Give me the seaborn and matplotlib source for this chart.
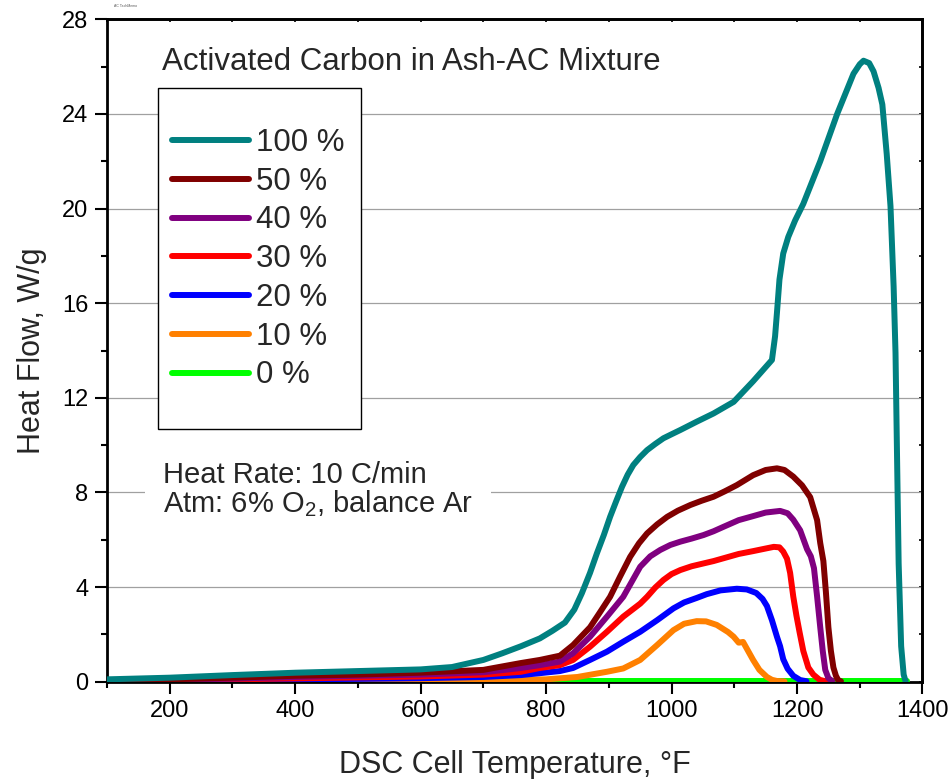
import numpy as np
import pandas as pd
import matplotlib
matplotlib.use("Agg")
import matplotlib.pyplot as plt
import seaborn as sns
from matplotlib.ticker import MultipleLocator
from matplotlib.patches import Rectangle

x_100 = [100, 200, 300, 400, 500, 600, 650, 700, 730, 760, 790, 810, 830, 845, 857, 870, 881, 892, 902, 912,
         921, 930, 939, 950, 961, 974, 987, 1000, 1014, 1040, 1067, 1099, 1130, 1160, 1165, 1168, 1172, 1178,
         1186, 1197, 1210, 1237, 1264, 1290, 1300, 1306, 1315, 1322, 1330, 1336, 1343, 1349, 1354, 1357, 1359,
         1362, 1366, 1370, 1373]
y_100 = [0.1, 0.17, 0.28, 0.38, 0.45, 0.52, 0.62, 0.92, 1.2, 1.5, 1.83, 2.15, 2.5, 3.05, 3.74, 4.6, 5.43, 6.2, 6.97, 7.65,
         8.24, 8.75, 9.16, 9.5, 9.79, 10.05, 10.29, 10.46, 10.64, 10.99, 11.34, 11.83, 12.7, 13.6, 14.6, 15.6, 17.0, 18.1,
         18.8, 19.5, 20.2, 22.0, 24.0, 25.7, 26.1, 26.25, 26.15, 25.8, 25.1, 24.4, 22.3, 20.1, 16.7, 13.9, 10.3,
         5.0, 1.5, 0.3, 0.02]

x_50 = [100, 200, 300, 400, 500, 600, 700, 760, 790, 822, 843, 870, 885, 902, 918, 934, 948, 961, 977, 993,
        1010, 1030, 1048, 1067, 1085, 1104, 1130, 1150, 1168, 1180, 1194, 1208, 1221, 1232, 1237, 1242, 1246,
        1250, 1254, 1258, 1262, 1266, 1270]
y_50 = [0.05, 0.1, 0.17, 0.25, 0.3, 0.38, 0.5, 0.79, 0.92, 1.1, 1.55, 2.3, 2.9, 3.59, 4.45, 5.28, 5.85, 6.27, 6.65, 6.97,
        7.23, 7.47, 7.65, 7.82, 8.05, 8.31, 8.73, 8.95, 9.02, 8.95, 8.67, 8.3, 7.8, 6.83, 5.86, 5.1, 3.8,
        2.3, 1.3, 0.6, 0.25, 0.05, 0.02]

x_40 = [100, 200, 300, 400, 500, 600, 700, 760, 790, 822, 843, 870, 897, 923, 950, 966, 982, 998, 1014, 1032,
        1051, 1067, 1083, 1107, 1130, 1150, 1173, 1185, 1194, 1205, 1216, 1222, 1227, 1232, 1237, 1241, 1245,
        1250, 1256]
y_40 = [0.04, 0.08, 0.13, 0.2, 0.25, 0.3, 0.4, 0.58, 0.7, 0.85, 1.2, 1.9, 2.75, 3.59, 4.86, 5.3, 5.57, 5.78, 5.92, 6.05,
        6.2, 6.36, 6.55, 6.83, 7.0, 7.15, 7.22, 7.12, 6.85, 6.4, 5.6, 5.3, 4.8, 3.6, 2.3, 1.3, 0.5,
        0.15, 0.03]

x_30 = [100, 200, 300, 400, 500, 600, 700, 760, 790, 822, 843, 870, 897, 923, 950, 961, 974, 987, 1000, 1014,
        1032, 1051, 1067, 1083, 1107, 1130, 1150, 1163, 1172, 1178, 1184, 1189, 1194, 1199, 1204, 1210, 1218,
        1226, 1236, 1245]
y_30 = [0.03, 0.06, 0.1, 0.14, 0.18, 0.22, 0.3, 0.42, 0.58, 0.7, 0.92, 1.48, 2.11, 2.75, 3.3, 3.59, 3.98, 4.3, 4.55, 4.72,
        4.88, 5.0, 5.1, 5.22, 5.4, 5.52, 5.63, 5.7, 5.68, 5.5, 5.2, 4.6, 3.6, 2.8, 2.1, 1.3, 0.6,
        0.3, 0.08, 0.02]

x_20 = [100, 200, 300, 400, 500, 600, 700, 760, 790, 822, 843, 870, 897, 923, 950, 977, 1003, 1020, 1040, 1056,
        1078, 1104, 1120, 1135, 1145, 1152, 1160, 1168, 1173, 1178, 1185, 1194, 1205, 1215]
y_20 = [0.02, 0.04, 0.07, 0.1, 0.12, 0.15, 0.2, 0.28, 0.36, 0.45, 0.58, 0.92, 1.27, 1.69, 2.11, 2.6, 3.1, 3.35, 3.54, 3.7,
        3.86, 3.93, 3.9, 3.75, 3.5, 3.2, 2.6, 1.9, 1.5, 0.95, 0.55, 0.25, 0.07, 0.02]

x_10 = [100, 300, 500, 700, 800, 850, 897, 923, 950, 977, 1003, 1020, 1040, 1055, 1072, 1090, 1099, 1107, 1114,
        1122, 1130, 1140, 1152, 1160, 1168, 1180]
y_10 = [0.01, 0.02, 0.03, 0.05, 0.1, 0.2, 0.42, 0.56, 0.92, 1.55, 2.18, 2.45, 2.56, 2.55, 2.4, 2.1, 1.9, 1.65,
        1.68, 1.3, 0.92, 0.5, 0.2, 0.08, 0.03, 0.01]

x_0 = [100, 400, 800, 1200, 1375]
y_0 = [0.02, 0.02, 0.02, 0.02, 0.02]

labels = ["100 %", "50 %", "40 %", "30 %", "20 %", "10 %", "0 %"]
colors = ["#008080", "#800000", "#800080", "#ff0000", "#0000ff", "#ff8000", "#00ff00"]
xs = [x_100, x_50, x_40, x_30, x_20, x_10, x_0]
ys = [y_100, y_50, y_40, y_30, y_20, y_10, y_0]

sns.set_style("white")
plt.rcParams['font.family'] = ['Liberation Sans', 'DejaVu Sans']
plt.rcParams['mathtext.fontset'] = 'custom'
plt.rcParams['mathtext.rm'] = 'Liberation Sans'
plt.rcParams['mathtext.it'] = 'Liberation Sans'

fig, ax = plt.subplots(figsize=(9.52, 7.79), dpi=100)
fig.subplots_adjust(left=0.1124, right=0.969, bottom=0.1249, top=0.9752)

# draw 0 % first so 100 % ends up on top
for i in reversed(range(len(labels))):
    df = pd.DataFrame({"T": xs[i], "HF": ys[i]})
    sns.lineplot(data=df, x="T", y="HF", ax=ax, color=colors[i], lw=4.3,
                 label=labels[i], solid_capstyle='round', solid_joinstyle='round',
                 zorder=3 + (6 - i) * 0.1)

ax.set_xlim(100, 1400)
ax.set_ylim(0, 28)
ax.xaxis.set_major_locator(MultipleLocator(200))
ax.xaxis.set_minor_locator(MultipleLocator(100))
ax.yaxis.set_major_locator(MultipleLocator(4))
ax.yaxis.set_minor_locator(MultipleLocator(2))

for yv in [4, 8, 12, 16, 20, 24]:
    ax.axhline(yv, color="#a0a0a0", lw=0.9, zorder=0.5)

ax.tick_params(which='major', direction='out', length=8.5, width=1.5, labelsize=17, pad=5,
               color='black', labelcolor='black')
ax.tick_params(which='minor', direction='out', length=4.5, width=1.5, color='black')
ax.tick_params(bottom=True, left=True, which='both')
for s in ax.spines.values():
    s.set_linewidth(2.0)
    s.set_color('black')

# right / top axes with small inward ticks
sec_y = ax.secondary_yaxis('right')
sec_y.yaxis.set_major_locator(MultipleLocator(4))
sec_y.yaxis.set_minor_locator(MultipleLocator(2))
sec_y.tick_params(which='both', direction='in', length=2.5, width=1.2, labelright=False, color='black')
sec_y.spines['right'].set_linewidth(2.0)
sec_x = ax.secondary_xaxis('top')
sec_x.xaxis.set_major_locator(MultipleLocator(200))
sec_x.xaxis.set_minor_locator(MultipleLocator(100))
sec_x.tick_params(which='both', direction='in', length=2.5, width=1.2, labeltop=False, color='black')
sec_x.spines['top'].set_linewidth(2.0)

ax.set_xlabel("DSC Cell Temperature, °F", fontsize=22, labelpad=20)
ax.set_ylabel("Heat Flow, W/g", fontsize=22, labelpad=11)

# legend box drawn separately to get the wide top / bottom margins
ax.add_patch(Rectangle((0.0629, 0.381), 0.2486, 0.5148, transform=ax.transAxes,
                       facecolor='white', edgecolor='black', lw=1.0, zorder=2))
handles, labs = ax.get_legend_handles_labels()
order = [labs.index(l) for l in labels]
leg = ax.legend([handles[k] for k in order], [labs[k] for k in order],
                loc='center left', bbox_to_anchor=(0.0797, 0.6378), frameon=False,
                fontsize=22.5, handlelength=2.46, handletextpad=0.22, labelspacing=0.28,
                borderpad=0, borderaxespad=0)
for line in leg.get_lines():
    line.set_linewidth(4.3)
    line.set_solid_capstyle('round')
leg.set_zorder(6)

ax.text(0.0674, 0.9232, "Activated Carbon in Ash-AC Mixture", transform=ax.transAxes,
        fontsize=22.5, va='baseline', ha='left', zorder=6)

ax.text(0.0687, 0.2894, "Heat Rate: 10 C/min\nAtm: 6% O$_2$, balance Ar", transform=ax.transAxes,
        fontsize=21, va='center', ha='left', linespacing=1.0, zorder=6,
        bbox=dict(facecolor='white', edgecolor='none', pad=13))

fig.text(114 / 952, 1 - 6 / 779, "AC TechMemo", fontsize=2.5, color='#555555', va='center')

plt.savefig("out.png", dpi=100)
